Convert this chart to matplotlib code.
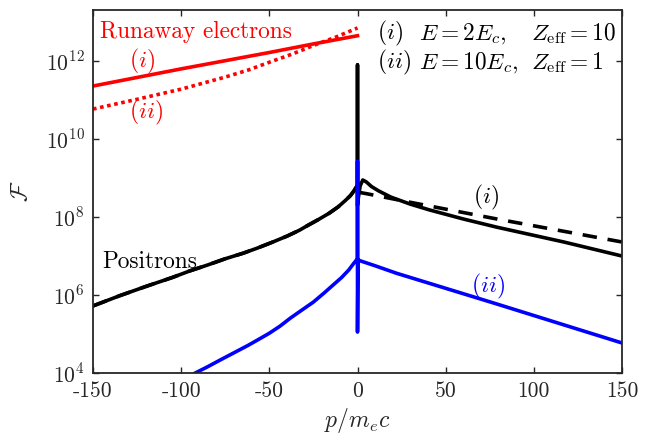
import numpy as np
import matplotlib
matplotlib.use('Agg')
import matplotlib.pyplot as plt

plt.rcParams['font.family'] = 'cmr10'
plt.rcParams['mathtext.fontset'] = 'cm'
plt.rcParams['axes.unicode_minus'] = False
plt.rcParams['axes.formatter.use_mathtext'] = True

# runaway electrons (log10 of F), p from -150 to 0
re_p = [-150, -100, -75, -50, -25, 0]
re_i = [11.36, 11.80, 12.01, 12.22, 12.44, 12.65]
re_ii_p = [-150, -125, -100, -75, -62, -50, -37, -25, -12, 0]
re_ii = [10.77, 11.02, 11.28, 11.59, 11.77, 11.97, 12.18, 12.40, 12.62, 12.85]

# positrons, case (i) solid: includes the spike at p=0
pos_left_p = [-150, -135, -120, -105, -95, -85, -75, -65, -57, -48, -40, -33, -28, -22, -16, -11, -7, -4, -2, 0]
pos_left = [5.72, 5.98, 6.22, 6.45, 6.62, 6.77, 6.93, 7.07, 7.20, 7.36, 7.51, 7.66, 7.79, 7.94, 8.10, 8.26, 8.42, 8.55, 8.67, 8.82]
pos_i_right_p = [0, 0, 0.5, 1.5, 3, 5, 8, 12, 19, 30, 41, 60, 79, 100, 117, 150]
pos_i_right = [11.9, 8.3, 8.5, 8.8, 8.95, 8.90, 8.78, 8.67, 8.51, 8.33, 8.18, 7.95, 7.74, 7.53, 7.36, 7.00]

# positrons, case (i) dashed, right part
pos_i2_right_p = [0, 5, 32, 79, 150]
pos_i2_right = [8.64, 8.60, 8.36, 7.95, 7.36]

# positrons, case (ii)
pos_ii_p = [-92, -85, -78, -70, -62, -55, -50, -44, -38, -32, -25, -19, -14, -9, -5, -2, 0, 0, 0,
            0.3, 2, 10, 22, 79, 150]
pos_ii = [4.0, 4.16, 4.33, 4.52, 4.71, 4.89, 5.02, 5.20, 5.41, 5.60, 5.82, 6.05, 6.25, 6.45, 6.64, 6.82, 6.93, 9.42, 5.05,
          6.90, 6.87, 6.75, 6.56, 5.77, 4.77]

xticks = [-150, -100, -50, 0, 50, 100, 150]
xticklabels = ['-150', '-100', '-50', '0', '50', '100', '150']
yticks = [1e4, 1e6, 1e8, 1e10, 1e12]
yticklabels = ['$10^{4}$', '$10^{6}$', '$10^{8}$', '$10^{10}$', '$10^{12}$']

fig = plt.figure(figsize=(6.61, 4.40), dpi=100)
ax = fig.add_axes([93/661, 67/440, 529/661, 363/440])

lw = 2.6
ax.plot(re_p, 10**np.array(re_i), color='red', lw=lw)
ax.plot(re_ii_p, 10**np.array(re_ii), color='red', lw=lw, linestyle=(0, (1, 1)))
ax.plot(pos_left_p + pos_i2_right_p, 10**np.array(pos_left + pos_i2_right), color='black', lw=lw,
        linestyle=(0, (4, 3)))
ax.plot(pos_left_p + pos_i_right_p, 10**np.array(pos_left + pos_i_right), color='black', lw=lw)
ax.plot(pos_ii_p, 10**np.array(pos_ii), color='blue', lw=lw)

ax.set_yscale('log')
ax.set_xlim(-150, 150)
ax.set_ylim(1e4, 10**13.31)
ax.set_xticks(xticks)
ax.set_xticklabels(xticklabels)
ax.set_yticks(yticks)
ax.set_yticklabels(yticklabels)
ax.minorticks_off()

gray = '#262626'
for s in ax.spines.values():
    s.set_color(gray)
    s.set_linewidth(1.3)
ax.tick_params(direction='in', length=4.5, width=1.0, color=gray, labelcolor=gray,
               labelsize=15.5, top=True, right=True, pad=6)

ax.set_xlabel('$p/m_e c$', fontsize=17, color=gray, labelpad=4)
ax.set_ylabel(r'$\mathcal{F}$', fontsize=17, color=gray, labelpad=10)

fs = 16.8
ax.text(-146, 10**12.74, 'Runaway electrons', color='red', fontsize=fs, va='center', ha='left')
ax.text(-122, 10**12.0, '$(i)$', color='red', fontsize=fs, va='center', ha='center')
ax.text(-120, 10**10.67, '$(ii)$', color='red', fontsize=fs, va='center', ha='center')
ax.text(10.8, 10**12.71, '$(i)$', color='black', fontsize=fs, va='center', ha='left')
ax.text(10.8, 10**11.97, '$(ii)$', color='black', fontsize=fs, va='center', ha='left')
ax.text(34.7, 10**12.71, '$E=2E_c,$', color='black', fontsize=fs, va='center', ha='left')
ax.text(34.7, 10**11.97, '$E=10E_c,$', color='black', fontsize=fs, va='center', ha='left')
ax.text(98.3, 10**12.71, r'$Z_\mathrm{eff}=10$', color='black', fontsize=fs, va='center', ha='left')
ax.text(98.3, 10**11.97, r'$Z_\mathrm{eff}=1$', color='black', fontsize=fs, va='center', ha='left')
ax.text(73, 10**8.51, '$(i)$', color='black', fontsize=fs, va='center', ha='center')
ax.text(74, 10**6.23, '$(ii)$', color='blue', fontsize=fs, va='center', ha='center')
ax.text(-145, 10**6.84, 'Positrons', color='black', fontsize=fs, va='center', ha='left')

fig.savefig('out.png', dpi=100)
